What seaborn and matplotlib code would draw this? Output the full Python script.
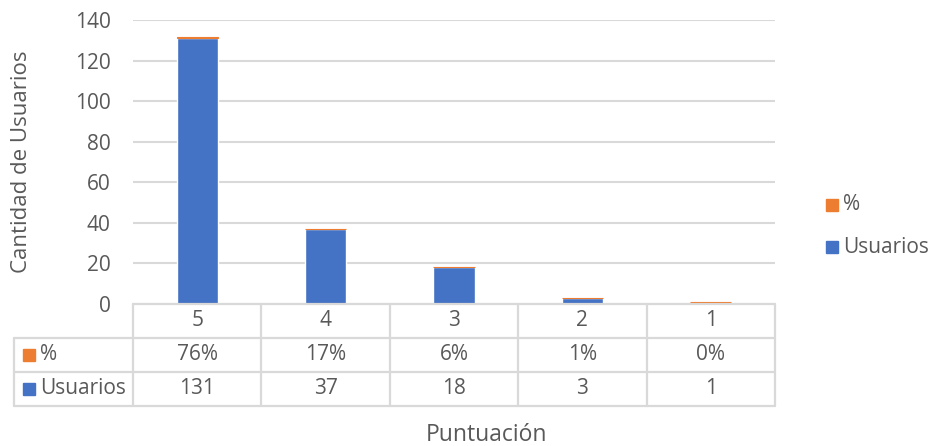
import matplotlib
matplotlib.use("Agg")
import matplotlib.pyplot as plt
import seaborn as sns
import pandas as pd

# data
puntuacion = ["5", "4", "3", "2", "1"]
usuarios = [131, 37, 18, 3, 1]
porcentaje = [0.76, 0.17, 0.06, 0.01, 0.0]
porcentaje_txt = ["76%", "17%", "6%", "1%", "0%"]

azul = "#4472C4"
naranja = "#ED7D31"
gris_txt = "#595959"
gris_linea = "#D9D9D9"

sns.set_style("white")
plt.rcParams["font.family"] = ["Open Sans", "DejaVu Sans"]

W, H = 932, 446
fig = plt.figure(figsize=(W / 100, H / 100), dpi=100)

# plot area in pixels
x0, x1 = 133, 775
y_top, y_zero = 20, 304
ax = fig.add_axes([x0 / W, 1 - y_zero / H, (x1 - x0) / W, (y_zero - y_top) / H])

df = pd.DataFrame({"Puntuación": puntuacion, "Usuarios": usuarios, "%": porcentaje})
sns.barplot(data=df, x="Puntuación", y="Usuarios", color=azul, width=0.32,
            saturation=1, ax=ax, zorder=3)
sns.barplot(data=df, x="Puntuación", y="%", color=naranja, width=0.32,
            saturation=1, ax=ax, bottom=df["Usuarios"], zorder=3,
            linewidth=0.8, edgecolor=naranja)

fs = 15
ax.set_ylim(0, 140)
ax.set_xlim(-0.5, 4.5)
ax.set_yticks(range(0, 141, 20))
ax.yaxis.grid(True, color=gris_linea, linewidth=1.5, zorder=0)
ax.tick_params(axis="y", length=0, labelsize=fs, labelcolor=gris_txt, pad=16)
ax.set_xticks([])
ax.set_xlabel("")
ax.set_ylabel("")
for s in ax.spines.values():
    s.set_visible(False)

# data table under the chart (drawn in figure pixels)
def fx(px):
    return px / W

def fy(py):
    return 1 - py / H

col_edges = [x0 + i * (x1 - x0) / 5 for i in range(6)]
row_edges = [304, 338, 372, 406]
lw = 1.6
fig.add_artist(plt.Line2D([fx(x0), fx(x1)], [fy(304), fy(304)], color=gris_linea, lw=lw))
for yy in row_edges[1:]:
    fig.add_artist(plt.Line2D([fx(14), fx(x1)], [fy(yy), fy(yy)], color=gris_linea, lw=lw))
for xx in col_edges:
    fig.add_artist(plt.Line2D([fx(xx), fx(xx)], [fy(304), fy(406)], color=gris_linea, lw=lw))
fig.add_artist(plt.Line2D([fx(14), fx(14)], [fy(338), fy(406)], color=gris_linea, lw=lw))

for i in range(5):
    cx = (col_edges[i] + col_edges[i + 1]) / 2
    fig.text(fx(cx), fy(321), puntuacion[i], ha="center", va="center", fontsize=fs, color=gris_txt)
    fig.text(fx(cx), fy(355), porcentaje_txt[i], ha="center", va="center", fontsize=fs, color=gris_txt)
    fig.text(fx(cx), fy(389), str(usuarios[i]), ha="center", va="center", fontsize=fs, color=gris_txt)

# legend keys in the table rows
for yy, col, lab in [(355, naranja, "%"), (389, azul, "Usuarios")]:
    fig.patches.append(plt.Rectangle((fx(23), fy(yy + 6)), 12 / W, 12 / H, color=col,
                                     transform=fig.transFigure, figure=fig))
    fig.text(fx(40), fy(yy), lab, ha="left", va="center", fontsize=fs, color=gris_txt)

# legend at the right
for yy, col, lab in [(205, naranja, "%"), (247, azul, "Usuarios")]:
    fig.patches.append(plt.Rectangle((fx(826), fy(yy + 6)), 12 / W, 12 / H, color=col,
                                     transform=fig.transFigure, figure=fig))
    fig.text(fx(843), fy(yy), lab, ha="left", va="center", fontsize=fs, color=gris_txt)

# axis titles
fig.text(fx(22), fy(162), "Cantidad de Usuarios", rotation=90, ha="center", va="center",
         fontsize=16, color=gris_txt)
fig.text(fx(486), fy(435), "Puntuación", ha="center", va="center", fontsize=16.5, color=gris_txt)

fig.savefig("out.png", dpi=100, facecolor="white")
